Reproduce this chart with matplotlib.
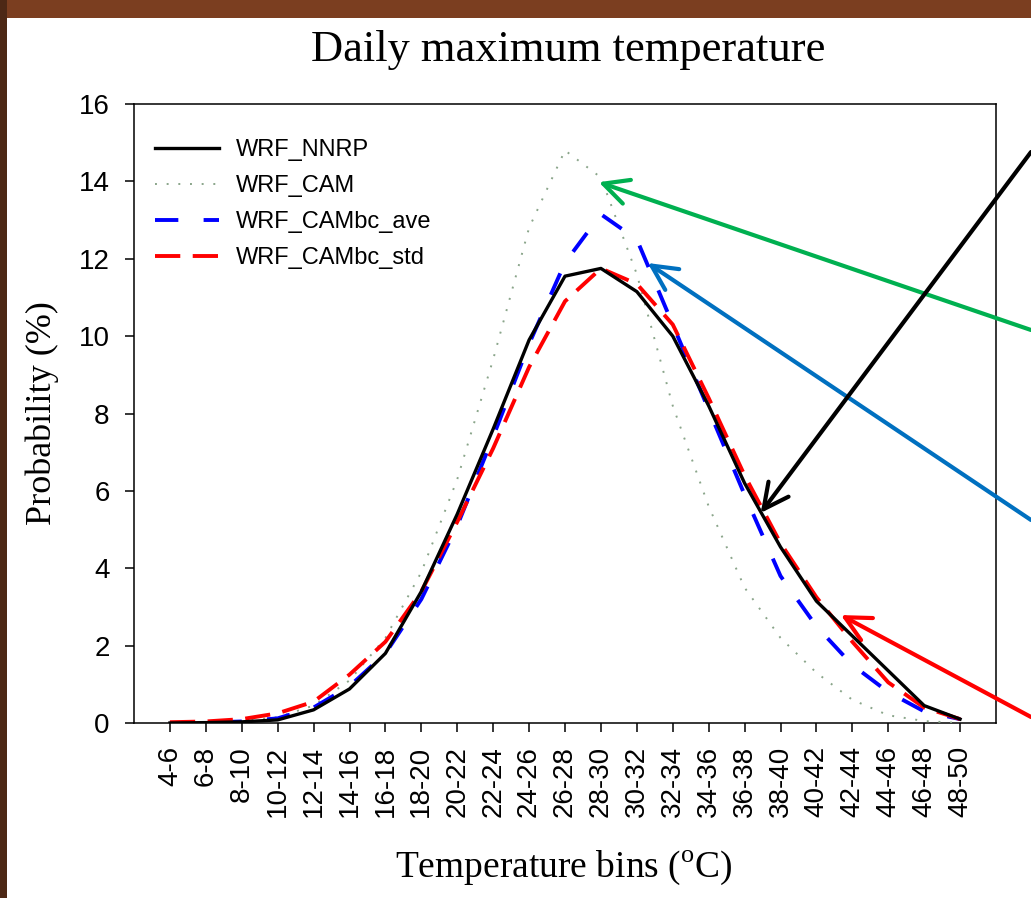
import matplotlib
matplotlib.use("Agg")
from matplotlib import pyplot as plt
from matplotlib.patches import Rectangle

plt.rcParams["mathtext.fontset"] = "custom"
plt.rcParams["mathtext.rm"] = "Liberation Serif"

# Data
bins = ["4-6", "6-8", "8-10", "10-12", "12-14", "14-16", "16-18", "18-20",
        "20-22", "22-24", "24-26", "26-28", "28-30", "30-32", "32-34",
        "34-36", "36-38", "38-40", "40-42", "42-44", "44-46", "46-48", "48-50"]
wrf_nnrp = [0.0, 0.01, 0.03, 0.08, 0.34, 0.88, 1.8, 3.4, 5.4, 7.6, 9.9, 11.55,
            11.75, 11.15, 10.0, 8.2, 6.2, 4.55, 3.15, 2.25, 1.35, 0.45, 0.1]
wrf_cam = [0.0, 0.02, 0.05, 0.15, 0.45, 1.1, 2.2, 3.9, 6.3, 9.4, 12.8, 14.8,
           14.1, 11.6, 8.2, 5.6, 3.5, 2.2, 1.3, 0.6, 0.2, 0.05, 0.0]
wrf_cambc_ave = [0.0, 0.01, 0.04, 0.12, 0.4, 0.95, 1.8, 3.2, 5.1, 7.4, 9.8, 11.9,
                 13.15, 12.5, 10.3, 8.1, 5.9, 3.8, 2.5, 1.5, 0.8, 0.3, 0.1]
wrf_cambc_std = [0.02, 0.04, 0.1, 0.25, 0.55, 1.25, 2.1, 3.4, 5.2, 7.1, 9.2, 10.9,
                 11.75, 11.35, 10.3, 8.4, 6.4, 4.65, 3.25, 2.1, 1.05, 0.4, 0.1]

# arrows: head in data coords (bin index, %), tail in figure pixels (from bottom)
arrow_colors = ["#00b050", "#0070c0", "black", "#ff0000"]
arrow_heads = [(11.94, 13.98), (13.30, 11.89), (16.45, 5.43), (18.68, 2.79)]
arrow_tails = [(1031, 568), (1031, 378), (1031, 746), (1031, 181)]

W, H = 1031, 898
fig = plt.figure(figsize=(W / 100, H / 100), dpi=100, facecolor="#7b3e20")
fig.add_artist(Rectangle((0, 0), 7 / W, 1, transform=fig.transFigure,
                         facecolor="#4d2815", edgecolor="none", zorder=0))
fig.add_artist(Rectangle((7 / W, 0), 1 - 7 / W, (H - 18) / H, transform=fig.transFigure,
                         facecolor="white", edgecolor="none", zorder=0))

ax = fig.add_axes([134 / W, (H - 723) / H, (996 - 134) / W, (723 - 104) / H])
x = list(range(len(bins)))

ax.plot(x, wrf_nnrp, color="black", lw=2.4, label="WRF_NNRP", zorder=5)
ax.plot(x, wrf_cam, color="#8aa58a", lw=1.4, ls=(0, (1, 5)), label="WRF_CAM", zorder=3)
ax.plot(x, wrf_cambc_ave, color="#0000ff", lw=2.8, ls=(0, (6, 6.5)),
        label="WRF_CAMbc_ave", zorder=4)
ax.plot(x, wrf_cambc_std, color="#ff0000", lw=2.8, ls=(0, (6.5, 3.2)),
        label="WRF_CAMbc_std", zorder=4)

ax.set_xlim(-1, len(bins))
ax.set_ylim(0, 16)
ax.set_yticks(range(0, 17, 2))
ax.set_xticks(x)
ax.set_xticklabels(bins, rotation=90, fontsize=20, family="Liberation Sans")
for lab in ax.get_yticklabels():
    lab.set_fontsize(20)
    lab.set_family("Liberation Sans")
ax.tick_params(direction="out", length=6.5, width=1.1)
ax.tick_params(axis="x", pad=10)
ax.tick_params(axis="y", pad=11)
for s in ax.spines.values():
    s.set_linewidth(1.1)

leg = ax.legend(loc="upper left", bbox_to_anchor=(0.0, 0.978), frameon=False,
                prop={"family": "Liberation Sans", "size": 17},
                handlelength=2.7, handletextpad=0.7, labelspacing=0.6)

ax.set_ylabel("Probability (%)", family="Liberation Serif", fontsize=26, labelpad=14)
fig.text(564 / W, 1 - 868 / H, "Temperature bins ($^{\\rm o}$C)", family="Liberation Serif",
         fontsize=27, ha="center", va="center")
fig.text(568 / W, 1 - 50 / H, "Daily maximum temperature", family="Liberation Serif",
         fontsize=32, ha="center", va="center")

for c, head, tail in zip(arrow_colors, arrow_heads, arrow_tails):
    ax.annotate("", xy=head, xycoords="data", xytext=tail, textcoords="figure pixels",
                annotation_clip=False,
                arrowprops=dict(arrowstyle="->,head_length=0.9,head_width=0.45",
                                color=c, lw=3, shrinkA=0, shrinkB=0, mutation_scale=20))

fig.savefig("out.png", dpi=100, facecolor=fig.get_facecolor())
